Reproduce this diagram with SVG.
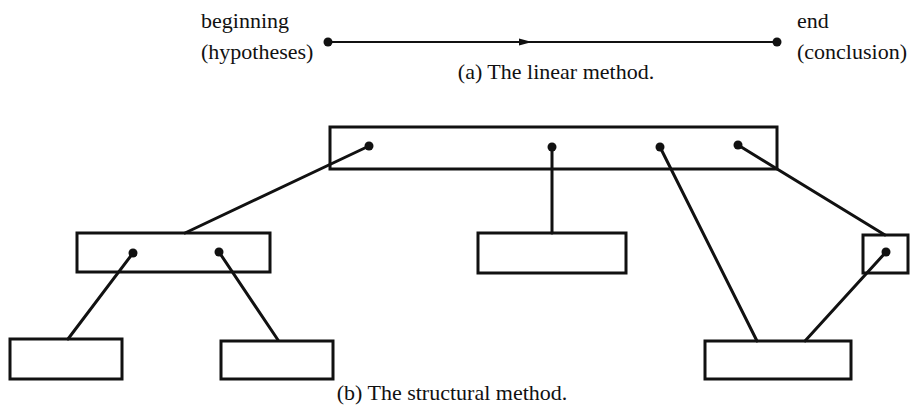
<svg xmlns="http://www.w3.org/2000/svg" width="912" height="414" viewBox="0 0 912 414">
<defs>
<style>
text{font-family:"Liberation Serif","Times New Roman",serif;font-size:22px;fill:#111}
.box{fill:none;stroke:#111;stroke-width:3}
.ln{stroke:#111;stroke-width:3;fill:none;stroke-linecap:round}
.thin{stroke:#111;stroke-width:2;fill:none}
.dot{fill:#111}
</style>
</defs>
<rect width="912" height="414" fill="#fff"/>
<g id="linear">
<text x="201" y="28">beginning</text>
<text x="201" y="59">(hypotheses)</text>
<line class="thin" x1="328" y1="42" x2="777" y2="42"/>
<path d="M519,38.5 L532,42 L519,45.5 Z" class="dot"/>
<circle class="dot" cx="328" cy="42" r="4.5"/>
<circle class="dot" cx="777" cy="42" r="4.5"/>
<text x="797" y="28">end</text>
<text x="797" y="59">(conclusion)</text>
<text x="556" y="79" text-anchor="middle">(a) The linear method.</text>
</g>
<g id="connectors">
<line class="ln" x1="369" y1="146" x2="185" y2="233"/>
<line class="ln" x1="552" y1="147" x2="552" y2="233"/>
<line class="ln" x1="660" y1="147" x2="757" y2="341"/>
<line class="ln" x1="738" y1="145" x2="885" y2="235"/>
<line class="ln" x1="133" y1="253" x2="68" y2="339"/>
<line class="ln" x1="219" y1="252" x2="278" y2="340"/>
<line class="ln" x1="886" y1="252" x2="805" y2="341"/>
</g>
<g id="root"><rect class="box" x="330" y="127" width="447" height="42"/>
<circle class="dot" cx="369" cy="146" r="4.5"/><circle class="dot" cx="552" cy="147" r="4.5"/><circle class="dot" cx="660" cy="147" r="4.5"/><circle class="dot" cx="738" cy="145" r="4.5"/></g>
<g id="midleft"><rect class="box" x="77" y="233" width="193" height="39"/>
<circle class="dot" cx="133" cy="253" r="4.5"/><circle class="dot" cx="219" cy="252" r="4.5"/></g>
<g id="midcenter"><rect class="box" x="478" y="233" width="148" height="40"/></g>
<g id="midright"><rect class="box" x="863" y="235" width="45" height="38"/>
<circle class="dot" cx="886" cy="252" r="4.5"/></g>
<g id="leaf1"><rect class="box" x="10" y="339" width="112" height="40"/></g>
<g id="leaf2"><rect class="box" x="221" y="341" width="112" height="38"/></g>
<g id="leaf3"><rect class="box" x="705" y="341" width="146" height="38"/></g>
<text x="452" y="400" text-anchor="middle">(b) The structural method.</text>
</svg>
